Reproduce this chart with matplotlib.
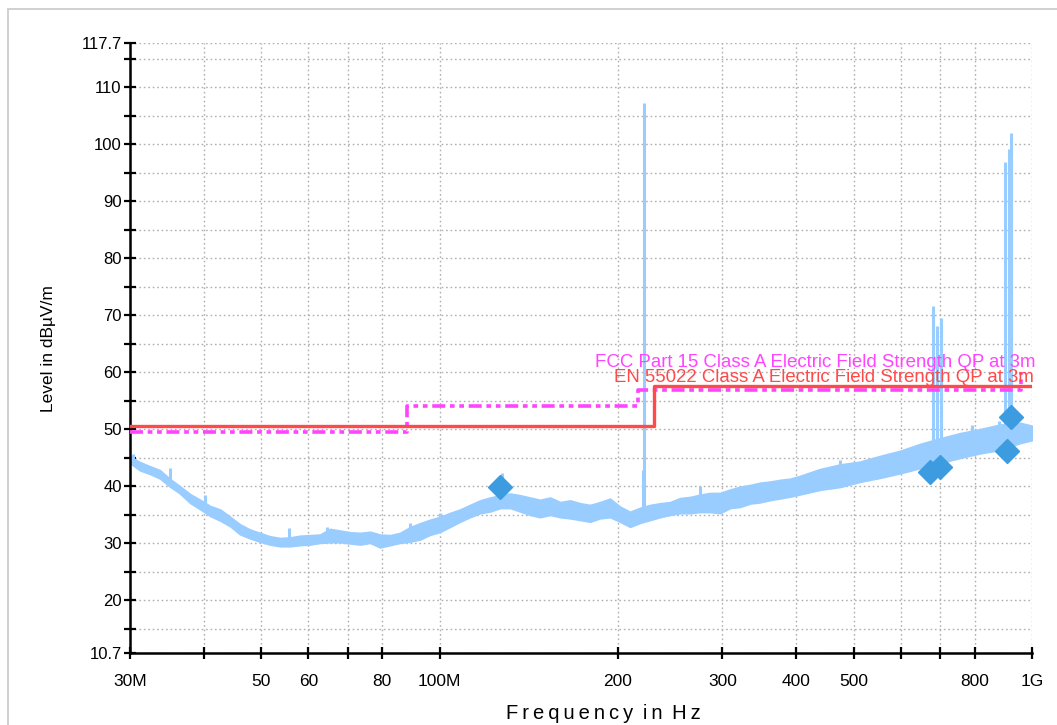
import matplotlib
matplotlib.use("Agg")
import matplotlib.pyplot as plt
from matplotlib.ticker import FixedLocator, FixedFormatter, NullFormatter
from matplotlib.patches import Rectangle

plt.rcParams['font.family'] = ['Liberation Sans', 'DejaVu Sans']

# ---------------- data (MHz, dBuV/m) ----------------
trace_freq = [30.0, 31.2, 32.4, 33.7, 35.0, 36.4, 37.9, 39.4, 41.0, 42.6, 44.3, 46.0,
              47.8, 49.7, 51.7, 53.8, 55.9, 58.1, 60.4, 62.8, 65.3, 67.9, 70.6, 73.4,
              76.3, 79.3, 82.5, 85.7, 89.1, 92.7, 96.3, 100.1, 104.1, 108.2, 112.5,
              117.0, 121.6, 126.5, 131.5, 136.7, 142.1, 147.7, 153.6, 159.7, 166.0,
              172.6, 179.4, 186.5, 193.9, 201.6, 209.6, 217.9, 226.6, 235.6, 244.9,
              254.6, 264.7, 275.2, 286.1, 297.4, 309.2, 321.5, 334.2, 347.5, 361.3,
              375.6, 390.5, 406.0, 438.8, 474.3, 512.6, 554.1, 598.9, 647.3, 699.7,
              756.3, 817.4, 883.5, 955.0, 1000.0]
trace_low = [44.1, 42.8, 42.2, 41.4, 40.0, 38.8, 37.1, 36.0, 34.8, 34.0, 33.0, 31.6,
             30.9, 30.3, 29.8, 29.5, 29.5, 29.7, 29.8, 30.1, 30.2, 30.2, 30.0, 29.8,
             30.1, 29.3, 29.7, 30.1, 30.3, 30.7, 31.5, 32.0, 32.9, 33.8, 34.6,
             35.3, 35.6, 36.2, 36.2, 35.6, 35.0, 34.6, 35.0, 34.6, 34.4,
             34.1, 33.8, 34.4, 34.6, 33.8, 32.9, 33.6, 34.1, 34.6, 35.0,
             35.3, 35.3, 35.5, 35.5, 35.3, 36.2, 36.4, 37.0, 37.2, 37.6,
             37.9, 38.2, 38.6, 39.4, 39.9, 40.8, 41.5, 42.3, 43.2, 44.1,
             45.0, 45.8, 46.4, 47.6, 48.1]
trace_high = [45.2, 44.2, 43.5, 42.8, 41.3, 40.0, 38.6, 37.6, 36.5, 35.9, 34.6, 33.3,
              32.4, 31.8, 31.2, 30.9, 31.0, 31.3, 31.4, 31.5, 32.5, 32.2, 31.9, 31.8,
              32.0, 31.5, 31.4, 31.8, 32.8, 33.5, 34.1, 34.6, 35.3, 35.9, 36.7,
              37.5, 38.0, 38.4, 38.7, 38.4, 38.0, 37.6, 38.0, 37.2, 37.5,
              37.0, 36.7, 37.2, 37.8, 36.4, 35.5, 36.2, 36.7, 37.0, 37.2,
              37.9, 38.1, 38.5, 38.8, 38.8, 39.4, 39.9, 40.2, 40.6, 40.8,
              41.1, 41.3, 41.8, 43.0, 43.8, 44.3, 45.3, 46.2, 47.4, 48.4,
              49.3, 50.0, 50.8, 51.1, 50.6]

# narrow noise peaks and carriers
spike_freq = [30.3, 35.1, 40.2, 55.6, 64.5, 89.1, 100.0, 127.5, 220.5, 221.5, 275.2,
              474.0, 680.0, 690.4, 703.0, 792.0, 900.6, 914.8, 922.8, 880.0]
spike_base = [44.5, 41.0, 36.5, 30.5, 31.0, 31.0, 33.0, 37.0, 34.0, 34.0, 36.0,
              41.0, 43.5, 43.5, 44.0, 46.0, 46.5, 47.0, 47.0, 47.0]
spike_peak = [45.7, 43.2, 38.5, 32.6, 32.9, 33.6, 35.3, 42.4, 42.8, 107.2, 40.1,
              44.6, 71.6, 68.1, 69.5, 50.8, 96.9, 99.1, 101.9, 51.5]

# final QP measurement markers
marker_freq = [126.4, 672.7, 699.0, 908.0, 920.7]
marker_level = [39.9, 42.5, 43.4, 46.2, 52.1]

# limit lines (step points)
en_freq = [30, 230, 230, 1000]
en_level = [50.5, 50.5, 57.5, 57.5]
fcc_freq = [30, 88, 88, 216, 216, 960, 960]
fcc_level = [49.5, 49.5, 54.0, 54.0, 56.9, 56.9, 60.0]

x_ticks = [30, 40, 50, 60, 70, 80, 100, 200, 300, 400, 500, 600, 700, 800, 1000]
x_labels = ["30M", "", "50", "60", "", "80", "100M", "200", "300", "400", "500", "",
            "", "800", "1G"]
y_ticks = [10.7, 20, 30, 40, 50, 60, 70, 80, 90, 100, 110, 117.7]
y_labels = ["10.7", "20", "30", "40", "50", "60", "70", "80", "90", "100", "110", "117.7"]
y_minor = [15, 25, 35, 45, 55, 65, 75, 85, 95, 105, 115]

fcc_label = "FCC Part 15 Class A Electric Field Strength QP at 3m"
en_label = "EN 55022 Class A Electric Field Strength QP at 3m"

# ---------------- styling ----------------
TRACE = '#99CCFF'
MARK = '#3D9BE0'
RED = '#FF4A4A'
MAG = '#FF44FF'

fig = plt.figure(figsize=(10.57, 7.25), dpi=100)
fig.patches.append(Rectangle((8 / 1057, -0.05), 1.2, 1 - 9 / 725 + 0.05,
                             transform=fig.transFigure, fill=False,
                             edgecolor='#C8C8C8', linewidth=1.2))
ax = fig.add_axes([130 / 1057, 1 - 653.3 / 725, 902 / 1057, 610 / 725])
ax.set_xscale('log')
ax.set_xlim(30, 1000)
ax.set_ylim(10.7, 117.7)

ax.fill_between(trace_freq, trace_low, trace_high, color=TRACE, linewidth=1.4,
                edgecolor=TRACE, zorder=2)
ax.vlines(spike_freq, spike_base, spike_peak, color=TRACE, linewidth=2.2, zorder=2)

ax.plot(fcc_freq, fcc_level, color=MAG, linewidth=2.6,
        linestyle=(0, (3.6, 1.3, 1.3, 1.3, 1.3, 1.3)), zorder=3)
ax.plot(en_freq, en_level, color=RED, linewidth=2.4, zorder=4)

ax.plot(marker_freq, marker_level, linestyle='none', marker='D', markersize=12,
        color=MARK, zorder=6)

ax.text(1.0035, 61.0, fcc_label, transform=ax.get_yaxis_transform(), ha='right',
        va='baseline', color=MAG, fontsize=13.4, zorder=5, clip_on=False)
ax.text(1.0025, 58.35, en_label, transform=ax.get_yaxis_transform(), ha='right',
        va='baseline', color=RED, fontsize=13.4, zorder=5, clip_on=False)

# ticks
ax.xaxis.set_major_locator(FixedLocator(x_ticks))
ax.xaxis.set_major_formatter(FixedFormatter(x_labels))
ax.xaxis.set_minor_locator(FixedLocator([]))
ax.xaxis.set_minor_formatter(NullFormatter())
ax.yaxis.set_major_locator(FixedLocator(y_ticks))
ax.yaxis.set_major_formatter(FixedFormatter(y_labels))
ax.yaxis.set_minor_locator(FixedLocator(y_minor))

ax.tick_params(axis='both', which='both', direction='inout', width=1.6, length=8,
               color='black')
ax.tick_params(axis='x', pad=11, labelsize=12.5)
ax.tick_params(axis='y', pad=2, labelsize=12)

ax.grid(True, which='both', axis='both', linestyle=(0, (1.2, 2.0)),
        color='#B0B0B0', linewidth=1.0, zorder=0)
ax.set_axisbelow(True)

for s in ['top', 'right']:
    ax.spines[s].set_visible(False)
for s in ['left', 'bottom']:
    ax.spines[s].set_linewidth(1.8)

ax.set_xlabel("F\u2009r\u2009e\u2009q\u2009u\u2009e\u2009n\u2009c\u2009y\u2009 i\u2009n\u2009 H\u2009z",
              fontsize=14.5)
ax.xaxis.set_label_coords(0.525, -0.083)
ax.set_ylabel("Level in dBµV/m", fontsize=12.5)
ax.yaxis.set_label_coords(-0.082, 0.5)

fig.savefig("out.png", dpi=100, facecolor='white')
